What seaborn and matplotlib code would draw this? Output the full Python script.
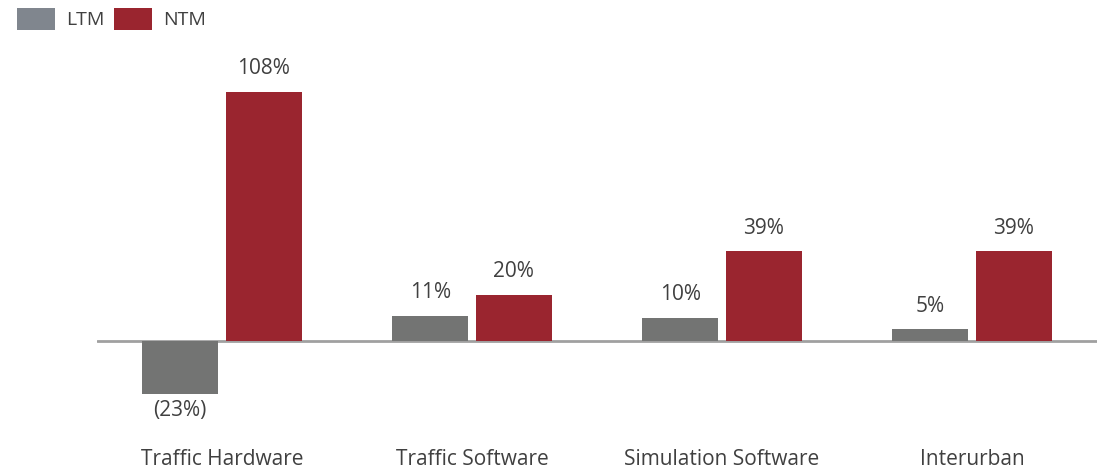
import pandas as pd
import matplotlib
matplotlib.use("Agg")
import matplotlib.pyplot as plt
import seaborn as sns

categories = ["Traffic Hardware", "Traffic Software", "Simulation Software", "Interurban"]
ltm = [-23, 11, 10, 5]
ntm = [108, 20, 39, 39]
series = ["LTM", "NTM"]

df = pd.DataFrame({
    "category": categories * 2,
    "series": ["LTM"] * len(categories) + ["NTM"] * len(categories),
    "value": ltm + ntm,
})

sns.set_theme(style="white")
plt.rcParams["font.family"] = ["Open Sans", "DejaVu Sans"]
text_color = "#404040"

fig = plt.figure(figsize=(11.09, 4.72), dpi=100)
ax = fig.add_axes([97 / 1109, 0.1555, 1000 / 1109, 0.684])

sns.barplot(data=df, x="category", y="value", hue="series", hue_order=series,
            palette={"LTM": "#737473", "NTM": "#9A252F"},
            width=0.67, gap=0.1, saturation=1, linewidth=0, edgecolor="none", ax=ax)

ax.set_ylim(-25, 115)
ax.set_xlim(-0.5, len(categories) - 0.5)
ax.axhline(0, color="#A0A0A0", lw=2, zorder=0)

# value labels: above positive bars, just under negative ones
for cont in ax.containers:
    for bar, v in zip(cont, cont.datavalues):
        x = bar.get_x() + bar.get_width() / 2
        if v < 0:
            ax.annotate(f"({abs(v):.0f}%)", (x, v), xytext=(0, -4), textcoords="offset points",
                        ha="center", va="top", fontsize=15, color=text_color)
        else:
            ax.annotate(f"{v:.0f}%", (x, v), xytext=(0, 9), textcoords="offset points",
                        ha="center", va="bottom", fontsize=15, color=text_color)

sns.despine(ax=ax, left=True, bottom=True)
ax.set_yticks([])
ax.set_xlabel("")
ax.set_ylabel("")
ax.tick_params(axis="x", length=0, pad=36, labelsize=15, labelcolor=text_color)

ax.get_legend().remove()
handles, labs = ax.get_legend_handles_labels()
leg = fig.legend(handles[:2], labs[:2], loc="upper left", bbox_to_anchor=(0.008, 1.0),
                 ncol=2, frameon=False, fontsize=14, handlelength=1.96, handleheight=1.4,
                 handletextpad=0.57, columnspacing=0.5, borderaxespad=0)
for t in leg.get_texts():
    t.set_color(text_color)
leg.legend_handles[0].set_facecolor("#80868E")

fig.savefig("out.png", dpi=100)
